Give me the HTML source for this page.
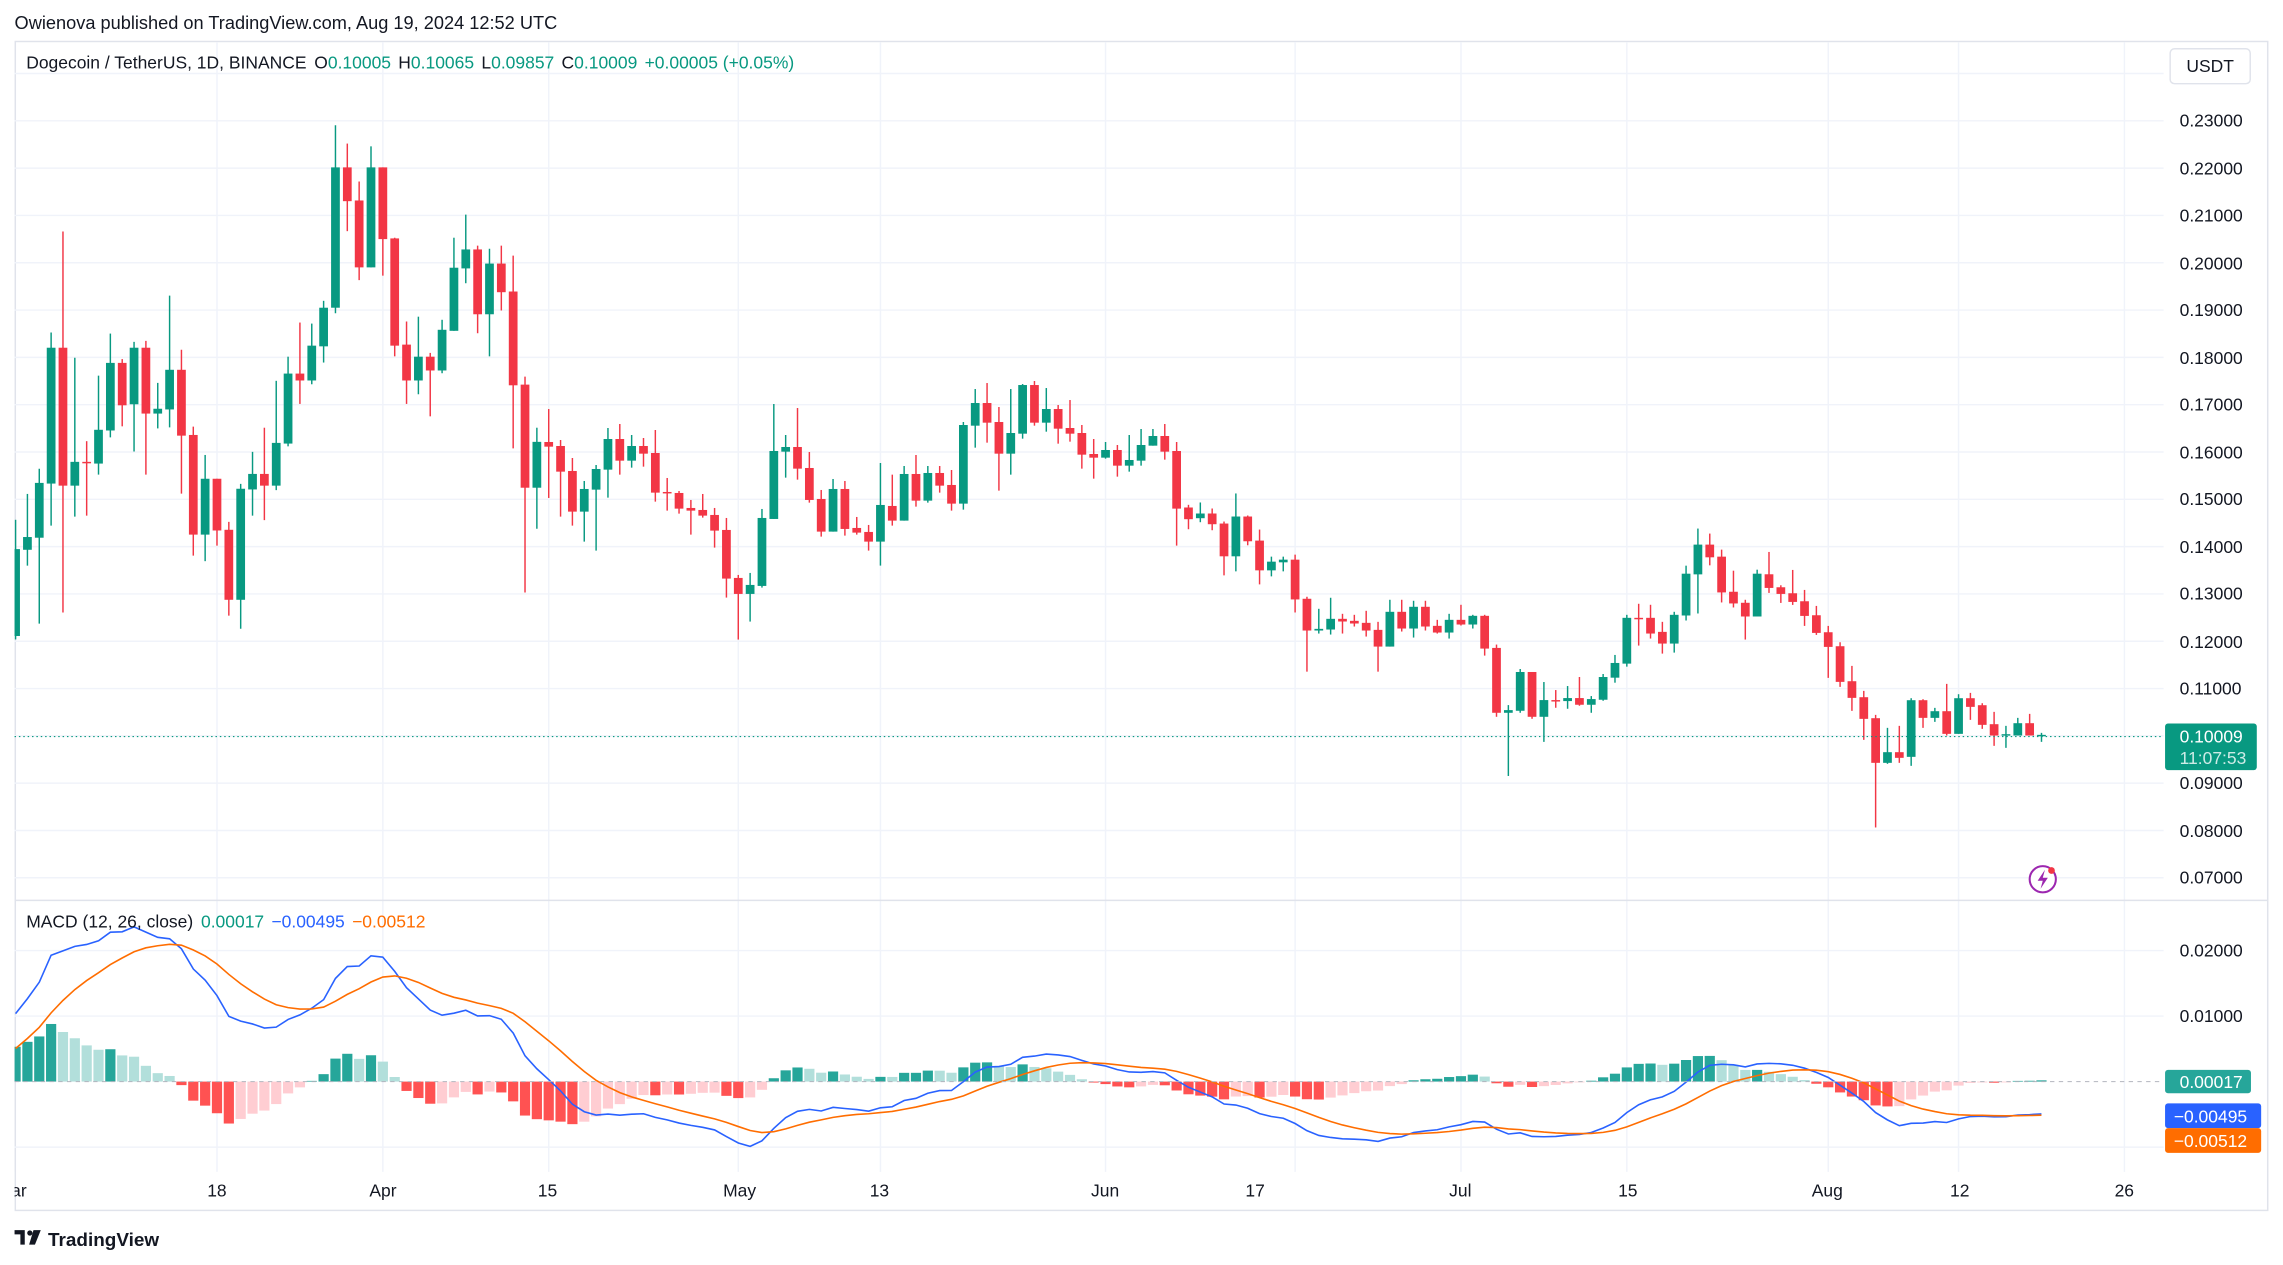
<!DOCTYPE html>
<html><head><meta charset="utf-8"><style>
html,body{margin:0;padding:0;background:#fff;}
svg{display:block;}
text{font-family:"Liberation Sans","DejaVu Sans",sans-serif;}
</style></head><body>
<svg id="s" width="2283" height="1265" viewBox="0 0 1568 869" preserveAspectRatio="none" xmlns="http://www.w3.org/2000/svg">
<rect x="0" y="0" width="1568" height="869" fill="#fff"/>
<text x="10" y="20" font-size="12.5" fill="#131722">Owienova published on TradingView.com, Aug 19, 2024 12:52 UTC</text>
<rect x="10.5" y="28.5" width="1547" height="803" fill="none" stroke="#e0e3eb" stroke-width="1"/>
<g id="grid"></g>
<g id="candles"></g>
<g id="macd"></g>
<line x1="10" y1="618.5" x2="1558" y2="618.5" stroke="#e0e3eb" stroke-width="1"/>
<line x1="10" y1="506" x2="1486" y2="506" stroke="#089981" stroke-width="0.8" stroke-dasharray="1,2"/>
<line x1="10" y1="743" x2="1486" y2="743" stroke="#b2b5be" stroke-width="0.7" stroke-dasharray="3,3"/>
<text x="18" y="47" font-size="12" fill="#131722">Dogecoin / TetherUS, 1D, BINANCE <tspan dx="2">O</tspan><tspan fill="#089981">0.10005</tspan><tspan dx="5">H</tspan><tspan fill="#089981">0.10065</tspan><tspan dx="5">L</tspan><tspan fill="#089981">0.09857</tspan><tspan dx="5">C</tspan><tspan fill="#089981">0.10009</tspan><tspan dx="5" fill="#089981">+0.00005 (+0.05%)</tspan></text>
<text x="18" y="637" font-size="12" fill="#131722">MACD (12, 26, close) <tspan dx="2" fill="#089981">0.00017</tspan><tspan dx="5" fill="#2962ff">−0.00495</tspan><tspan dx="5" fill="#ff6d00">−0.00512</tspan></text>
<rect x="1490.5" y="33.5" width="55" height="24" rx="3" fill="#fff" stroke="#e0e3eb"/>
<text x="1518" y="49.5" font-size="12" fill="#131722" text-anchor="middle">USDT</text>
<g font-size="12" fill="#131722">
<text x="1497" y="87">0.23000</text><text x="1497" y="120">0.22000</text><text x="1497" y="152">0.21000</text>
<text x="1497" y="185">0.20000</text><text x="1497" y="217">0.19000</text><text x="1497" y="250">0.18000</text>
<text x="1497" y="282">0.17000</text><text x="1497" y="315">0.16000</text><text x="1497" y="347">0.15000</text>
<text x="1497" y="380">0.14000</text><text x="1497" y="412">0.13000</text><text x="1497" y="445">0.12000</text>
<text x="1497" y="477">0.11000</text><text x="1497" y="542">0.09000</text>
<text x="1497" y="575">0.08000</text><text x="1497" y="607">0.07000</text>
<text x="1497" y="657">0.02000</text><text x="1497" y="702">0.01000</text>
</g>
<rect x="1487" y="497" width="63" height="32" rx="2" fill="#089981"/>
<text x="1497" y="510" font-size="12" fill="#fff">0.10009</text>
<text x="1497" y="525" font-size="12" fill="#fff" fill-opacity="0.8">11:07:53</text>
<rect x="1487" y="735" width="59" height="16" rx="2" fill="#26a69a"/>
<text x="1497" y="747.5" font-size="12" fill="#fff">0.00017</text>
<rect x="1487" y="758" width="66" height="17" rx="2" fill="#2962ff"/>
<text x="1493" y="771" font-size="12" fill="#fff">−0.00495</text>
<rect x="1487" y="775" width="66" height="17" rx="2" fill="#ff6d00"/>
<text x="1493" y="788" font-size="12" fill="#fff">−0.00512</text>
<g font-size="12" fill="#131722" text-anchor="middle">
<text x="8" y="822">Mar</text>
<text x="149" y="822">18</text><text x="263" y="822">Apr</text><text x="376" y="822">15</text>
<text x="508" y="822">May</text><text x="604" y="822">13</text><text x="759" y="822">Jun</text>
<text x="862" y="822">17</text><text x="1003" y="822">Jul</text><text x="1118" y="822">15</text>
<text x="1255" y="822">Aug</text><text x="1346" y="822">12</text><text x="1459" y="822">26</text>
</g>
<rect x="0" y="805" width="10" height="30" fill="#fff"/>
<circle cx="1403" cy="604" r="9" fill="#fff" stroke="#9c27b0" stroke-width="1.4"/>
<path d="M1404.5 597.5 L1399.5 605 L1403 605 L1401.5 610.5 L1406.5 603 L1403 603 Z" fill="#9c27b0"/>
<circle cx="1409" cy="598" r="2.3" fill="#f23645"/>
<g fill="#131722">
<path d="M10 845 h7 v10 h-3 v-7 h-4 z"/>
<circle cx="20.5" cy="847" r="1.8"/>
<path d="M23 845 h5 l-4 10 h-4 z"/>
</g>
<text x="33" y="856" font-size="13" font-weight="bold" fill="#131722">TradingView</text>
</svg>
<script>
(function(){
var NS="http://www.w3.org/2000/svg";
function el(p,t,a){var e=document.createElementNS(NS,t);for(var k in a)e.setAttribute(k,a[k]);p.appendChild(e);return e;}
var grid=document.getElementById('grid');
var X=function(i){return 10.7+i*8.137;};
var YP=function(p){return 83+(0.23-p)*3250;};
var YM=function(m){return 743-m*4500;};
for(var p=0.07;p<=0.2401;p+=0.01){var y=YP(p);el(grid,'line',{x1:10,x2:1486,y1:y,y2:y,stroke:'#f0f3fa','stroke-width':1});}
[0.02,0.01,-0.01].forEach(function(m){var y=YM(m);el(grid,'line',{x1:10,x2:1486,y1:y,y2:y,stroke:'#f0f3fa','stroke-width':1});});
[17,31,45,61,73,92,108,122,136,153,164,178].forEach(function(i){var x=X(i);el(grid,'line',{x1:x,x2:x,y1:29,y2:805,stroke:'#f0f3fa','stroke-width':1});});
var Z3=[["G",1278,1530,1193,1540],["G",1243,1280,1118,1326],["G",1086,1245,1045,1494],["G",694,1088,650,1210],["R",694,1094,357,1462],["G",1025,1094,723,1184],["R",1025,1028,965,1181],["G",932,1030,775,1062],["G",738,934,653,954],["R",738,861,727,922],["G",694,858,677,995],["R",694,885,674,1062],["G",871,885,796,928],["G",758,873,543,925],["R",758,949,700,1117],["R",947,1236,923,1297],["G",1074,1236,1005,1313],["R",1074,1224,1074,1268],["R",1222,1425,1199,1471],["G",1103,1425,1089,1509],["G",1060,1105,996,1181],["R",1060,1094,926,1194],["G",970,1094,790,1107],["G",769,972,720,980],["R",769,789,621,857],["G",688,789,624,800],["G",578,690,558,737],["G",171,578,49,594],["R",171,269,102,356],["R",267,461,212,498],["G",171,461,110,461],["R",171,379,171,485],["R",377,688,375,719],["R",685,789,618,857],["G",720,789,604,829],["R",720,760,709,893],["G",642,760,613,768],["G",462,645,375,645],["G",409,464,308,507],["R",409,597,398,652],["G",450,597,407,719],["R",450,533,398,586],["R",531,803,427,986],["R",801,1100,778,1404],["G",967,1100,926,1219]];
var Z4=[["R",339,353,240,507],["R",351,428,333,563],["R",426,548,387,590],["G",480,548,456,638],["G",420,482,408,665],["G",330,422,297,506],["R",330,395,285,437],["G",351,395,318,416],["R",351,374,327,413],["R",372,491,303,518],["R",489,491,447,545],["R",492,539,486,554],["R",537,545,513,617],["R",543,560,495,566],["R",558,605,537,656],["R",603,749,567,806],["R",747,795,738,932],["G",768,795,732,878],["G",567,771,540,776],["G",366,570,225,570],["G",354,368,318,446],["R",354,419,237,452],["R",417,513,369,521],["R",510,608,483,623],["G",480,608,450,608],["R",480,600,456,620],["R",597,611,564,617],["R",609,638,588,665],["G",528,638,402,710],["R",531,575,437,590],["G",435,575,411,575],["R",435,515,378,533],["G",432,515,411,521],["R",432,470,411,491],["R",468,524,423,545],["G",288,524,279,542],["G",222,290,180,356],["R",222,281,162,341],["R",279,374,234,485],["G",312,374,180,437],["G",168,314,165,329],["R",168,281,156,290],["G",240,281,177,308],["R",240,299,228,344],["R",297,314,213,338],["R",312,377,288,419],["R",375,386,330,449],["G",363,386,339,389],["R",363,410,348,443],["G",393,410,318,428],["G",348,395,300,410],["G",321,350,300,350],["R",321,368,285,392],["R",366,539,339,650]];
var Z5=[["R",297,332,289,362],["G",315,329,282,341],["R",315,347,300,365],["R",345,443,339,500],["G",324,443,255,488],["R",324,398,321,410],["R",396,485,363,527],["G",459,485,444,503],["G",453,461,444,488],["R",453,572,438,611],["R",570,665,564,788],["G",660,665,600,674],["G",630,662,567,677],["R",630,638,615,674],["R",636,644,618,653],["R",642,665,606,683],["R",663,713,639,788],["G",609,713,573,713],["R",609,659,573,668],["G",594,659,576,686],["R",594,653,576,665],["R",651,671,633,674],["G",633,671,615,689],["R",633,647,588,650],["G",621,647,618,659],["R",621,719,618,740],["R",717,911,707,923],["G",903,911,888,1100],["G",789,905,780,911],["R",789,923,789,929],["G",873,923,819,998],["R",873,876,843,896],["G",867,876,831,899],["R",867,887,804,890],["G",870,887,861,911],["G",804,872,795,875],["G",762,806,738,821],["G",627,764,618,773],["R",627,629,585,710],["R",627,674,588,689],["R",669,704,639,734],["G",618,704,609,731],["G",495,620,471,635],["G",408,497,360,614],["R",408,446,375,470],["R",444,551,423,581],["R",549,584,486,596],["R",582,623,573,692],["G",495,623,483,623]];
var Z6=[["R",225,266,158,281],["R",264,284,258,311],["R",282,308,212,317],["R",306,350,272,380],["R",348,401,320,407],["R",399,443,380,536],["R",441,548,429,563],["R",546,596,500,635],["R",594,659,575,722],["R",657,791,647,985],["G",759,791,686,794],["R",759,776,680,791],["G",603,773,597,800],["R",603,656,600,686],["G",636,656,626,668],["R",636,704,554,709],["G",597,704,585,704],["R",597,623,581,662],["R",618,677,612,689],["R",675,709,638,740],["G",705,707,680,746],["G",672,709,656,709],["R",672,709,644,709],["G",707,709,701,728]];
var f3=function(y){return 0.23-(y-36)/13720;},f4=function(y){return 0.16-(y-369)/14200;},f5=function(y){return 0.10-(y-980)/14150;},f6=function(y){return 0.10-(y-710)/14200;};
var C=[];
function add(arr,f){arr.forEach(function(d){var g=d[0]=="G";C.push({g:g,o:g?f(d[2]):f(d[1]),c:g?f(d[1]):f(d[2]),h:f(d[3]),l:f(d[4])});});}
add(Z3,f3);add(Z4,f4);add(Z5,f5);add(Z6,f6);
var cg=document.getElementById('candles');
C.forEach(function(k,i){
 var x=X(i),col=k.g?'#089981':'#f23645';
 var yt=YP(Math.max(k.o,k.c)),yb=YP(Math.min(k.o,k.c));
 el(cg,'line',{x1:x,x2:x,y1:YP(k.h),y2:YP(k.l),stroke:col,'stroke-width':1});
 var lx=Math.max(x-3,10),rx=x+3;
 el(cg,'rect',{x:lx,y:yt,width:rx-lx,height:Math.max(yb-yt,1),fill:col});
});
var pre=[];for(var j=0;j<40;j++)pre.push(0.080+0.002*Math.sin(j));
[0.083,0.085,0.086,0.087,0.089,0.092,0.097,0.105,0.113,0.121].forEach(function(v){pre.push(v);});
var closes=pre.concat(C.map(function(k){return k.c;}));
function ema(a,n){var k=2/(n+1),r=[],e=a[0];a.forEach(function(v){e=v*k+e*(1-k);r.push(e);});return r;}
var e12=ema(closes,12),e26=ema(closes,26),m=e12.map(function(v,i){return v-e26[i];}),s=ema(m,9);
var off=pre.length,mg=document.getElementById('macd');
var prevH=m[off-1]-s[off-1];
for(var i=0;i<C.length;i++){
 var h=m[off+i]-s[off+i],col;
 if(h>=0)col=h>=prevH?'#26a69a':'#b2dfdb';else col=h<=prevH?'#ff5252':'#ffcdd2';
 prevH=h;var x=X(i),y0=YM(0),y1=YM(h);
 var lx=Math.max(x-3.5,10);
 el(mg,'rect',{x:lx,y:Math.min(y0,y1),width:x+3.5-lx,height:Math.abs(y1-y0),fill:col});
}
function pl(arr,col){var d='';for(var i=0;i<C.length;i++){d+=(i?'L':'M')+Math.max(X(i),10).toFixed(1)+' '+YM(arr[off+i]).toFixed(1);}el(mg,'path',{d:d,fill:'none',stroke:col,'stroke-width':1.1});}
pl(m,'#2962ff');pl(s,'#ff6d00');
})();
</script>
</body></html>
